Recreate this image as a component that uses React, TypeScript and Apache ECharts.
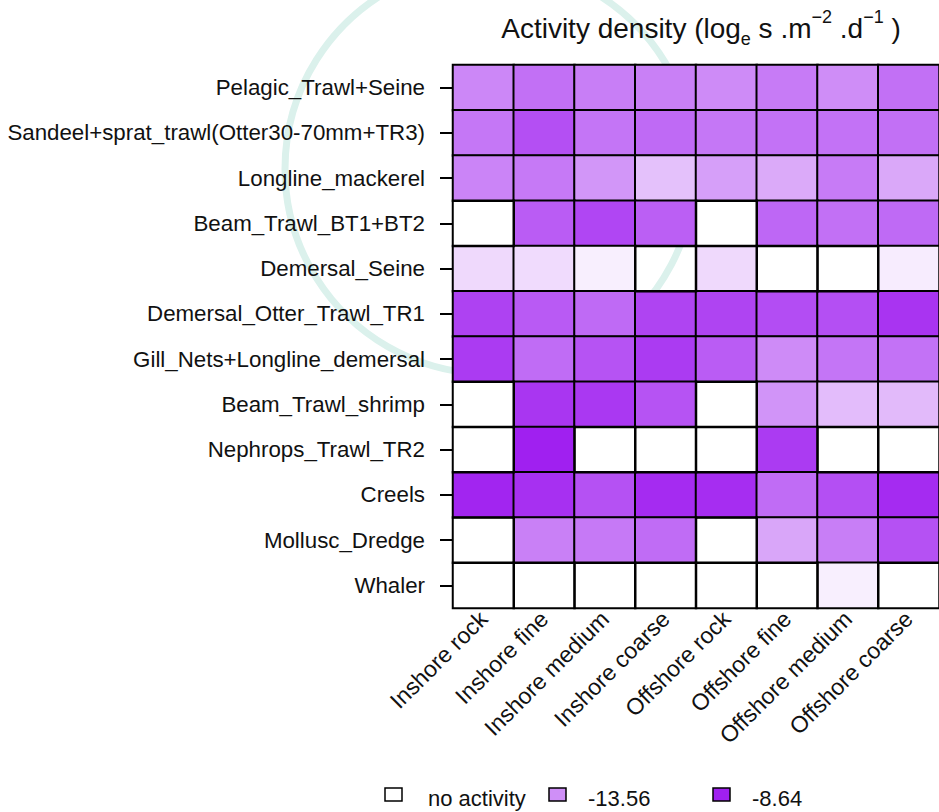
import React, { useEffect, useRef } from "react";
import * as echarts from "echarts";

const xCategories = [
  "Inshore rock",
  "Inshore fine",
  "Inshore medium",
  "Inshore coarse",
  "Offshore rock",
  "Offshore fine",
  "Offshore medium",
  "Offshore coarse",
];

const yCategories = [
  "Pelagic_Trawl+Seine",
  "Sandeel+sprat_trawl(Otter30-70mm+TR3)",
  "Longline_mackerel",
  "Beam_Trawl_BT1+BT2",
  "Demersal_Seine",
  "Demersal_Otter_Trawl_TR1",
  "Gill_Nets+Longline_demersal",
  "Beam_Trawl_shrimp",
  "Nephrops_Trawl_TR2",
  "Creels",
  "Mollusc_Dredge",
  "Whaler",
];

// log_e activity density per gear (row) and habitat (column); null = no activity
const pelagicTrawlSeine = [-13.17, -12.18, -12.77, -12.87, -13.36, -12.67, -13.46, -12.18];
const sandeelSpratTrawl = [-12.48, -10.71, -12.38, -11.89, -12.48, -12.28, -12.28, -12.18];
const longlineMackerel = [-13.07, -12.58, -13.86, -15.73, -14.25, -14.74, -12.67, -14.64];
const beamTrawlBT1BT2 = [null, -11.3, -10.31, -11.4, null, -11.79, -12.18, -11.89];
const demersalSeine = [-16.81, -16.91, -17.79, null, -16.81, null, null, -17.64];
const demersalOtterTrawl = [-10.12, -11.2, -11.89, -10.21, -10.21, -10.61, -10.71, -9.53];
const gillNetsLongline = [-9.82, -11.99, -10.9, -9.82, -11.3, -13.36, -12.38, -12.28];
const beamTrawlShrimp = [null, -9.62, -9.72, -10.9, null, -13.76, -15.53, -15.43];
const nephropsTrawl = [null, -8.64, null, null, null, -9.82, null, null];
const creels = [-8.84, -9.33, -10.81, -9.13, -9.23, -11.99, -10.71, -9.13];
const molluscDredge = [null, -12.87, -12.58, -11.99, null, -14.54, -12.77, -10.81];
const whaler = [null, null, null, null, null, null, -17.79, null];

const rows: (number | null)[][] = [
  pelagicTrawlSeine,
  sandeelSpratTrawl,
  longlineMackerel,
  beamTrawlBT1BT2,
  demersalSeine,
  demersalOtterTrawl,
  gillNetsLongline,
  beamTrawlShrimp,
  nephropsTrawl,
  creels,
  molluscDredge,
  whaler,
];

const legendLabels = ["no activity", "-13.56", "-8.64"];
const legendMid = -13.56;
const legendMax = -8.64;

const FONT = "'Liberation Sans', Arial, sans-serif";
const TEXT = "#111111";

export default function App() {
  const ref = useRef<HTMLDivElement>(null);

  useEffect(() => {
    if (!ref.current) return;
    const chart = echarts.init(ref.current, undefined, { renderer: "svg" });

    const active: [number, number, number][] = [];
    const empty: [number, number, number][] = [];
    rows.forEach((row, yi) => {
      row.forEach((v, xi) => {
        if (v === null) empty.push([xi, yi, 0]);
        else active.push([xi, yi, v]);
      });
    });

    const scaleMin = 2 * legendMid - legendMax;

    const legendX = [385, 549, 713];
    const legendTextX = [428, 588, 752];
    const legendFill = ["#ffffff", "#cf8ff7", "#a020f0"];

    const legendGraphics: any[] = [];
    legendLabels.forEach((lab, i) => {
      legendGraphics.push({
        type: "rect",
        shape: { x: legendX[i], y: 788, width: 17, height: 13 },
        style: { fill: legendFill[i], stroke: "#000", lineWidth: 1.5 },
      });
      legendGraphics.push({
        type: "text",
        x: legendTextX[i],
        y: 798,
        style: {
          text: lab,
          fontSize: 22,
          fontFamily: FONT,
          fill: TEXT,
          verticalAlign: "middle",
        },
      });
    });

    chart.setOption({
      animation: false,
      backgroundColor: "#ffffff",
      title: {
        text: "Activity density (log{e|e} s .m{sup|−2} .d{sup|−1} )",
        left: 701,
        top: 8,
        textAlign: "center",
        padding: 0,
        textStyle: {
          fontFamily: FONT,
          fontSize: 28,
          lineHeight: 40,
          fontWeight: "normal",
          color: TEXT,
          rich: {
            e: { fontFamily: FONT, fontSize: 18, lineHeight: 17, verticalAlign: "bottom", color: TEXT },
            sup: { fontFamily: FONT, fontSize: 18, lineHeight: 17, verticalAlign: "top", color: TEXT },
          },
        },
      },
      graphic: [
        {
          type: "circle",
          z: -10,
          silent: true,
          shape: { cx: 490, cy: 169, r: 205 },
          style: { fill: "none", stroke: "#dbf1ec", lineWidth: 7 },
        },
        ...legendGraphics,
      ],
      grid: { left: 453, top: 65, width: 496, height: 543 },
      xAxis: {
        type: "category",
        data: xCategories,
        position: "bottom",
        axisLine: { show: false },
        axisTick: { show: false },
        splitLine: { show: false },
        axisLabel: {
          rotate: 45,
          interval: 0,
          margin: 7,
          fontSize: 23,
          fontFamily: FONT,
          color: TEXT,
        },
      },
      yAxis: {
        type: "category",
        data: yCategories,
        inverse: true,
        axisLine: { show: false },
        axisTick: {
          show: true,
          alignWithLabel: true,
          length: 13,
          lineStyle: { color: "#000", width: 2 },
        },
        splitLine: { show: false },
        axisLabel: {
          interval: 0,
          margin: 28,
          fontSize: 22.3,
          fontFamily: FONT,
          color: TEXT,
        },
      },
      visualMap: [
        {
          show: false,
          type: "continuous",
          seriesIndex: 0,
          min: scaleMin,
          max: legendMax,
          inRange: { color: ["#ffffff", "#a020f0"] },
        },
        {
          show: false,
          type: "piecewise",
          seriesIndex: 1,
          pieces: [{ min: -1, max: 1, color: "rgba(255,255,255,0)" }],
        },
      ],
      series: [
        {
          type: "heatmap",
          data: active,
          itemStyle: { borderColor: "#000", borderWidth: 2 },
          emphasis: { disabled: true },
        },
        {
          type: "heatmap",
          data: empty,
          itemStyle: { borderColor: "#000", borderWidth: 2 },
          emphasis: { disabled: true },
        },
      ],
    });

    return () => chart.dispose();
  }, []);

  return (
    <div
      ref={ref}
      style={{ position: "fixed", left: 0, top: 0, width: 939, height: 812 }}
    />
  );
}
